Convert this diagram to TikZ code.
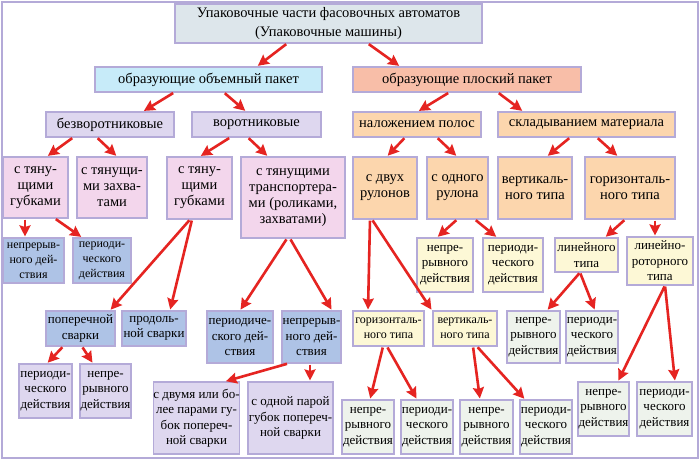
\documentclass[tikz,border=0pt]{standalone}
\usepackage{fontspec}
\setmainfont{Liberation Serif}
\usetikzlibrary{arrows.meta}
\definecolor{bord}{HTML}{B4AAD8}
\definecolor{arrred}{HTML}{E52421}
\definecolor{ctop}{HTML}{DDE6EB}
\definecolor{ccyan}{HTML}{C7EBF9}
\definecolor{csalmon}{HTML}{F8BEA8}
\definecolor{clav}{HTML}{DED7EF}
\definecolor{cpink}{HTML}{F3D6EC}
\definecolor{cpeach}{HTML}{FCD6AD}
\definecolor{cblue}{HTML}{AEC3E6}
\definecolor{cyel}{HTML}{FDF8D6}
\definecolor{cgreen}{HTML}{EEF3EC}
\tikzset{
  box/.style={draw=bord, line width=1.1pt, inner sep=0pt, align=center,
    font=\fontsize{14.5}{16}\selectfont},
  topbox/.style={box, font=\fontsize{14.5}{19}\selectfont},
  sbox/.style={box, font=\fontsize{13}{15.5}\selectfont},
  nbox/.style={box, font=\fontsize{12}{15}\selectfont},
  arr/.style={draw=arrred, line width=2.6pt,
    -{Stealth[length=11pt,width=11pt,inset=1.5pt]}, shorten >=1pt, shorten <=1pt},
}
\newcommand\bx[7]{\node[#6, minimum width=#4pt-#2pt, minimum height=#5pt-#3pt]
  (#1) at ({(#2+#4)/2},{(#3+#5)/2}) {#7};}
\newcommand\ar[4]{\draw[arr] (#1.south -| #2,0) -- (#3.north -| #4,0);}
\begin{document}
\begin{tikzpicture}[x=1pt,y=-1pt]
\useasboundingbox (0,0) rectangle (700,460);
\draw[draw=bord, line width=2pt, fill=white] (2,2) rectangle (698,458);
% row 1-2
\bx{top}{175}{4}{482}{43}{topbox,fill=ctop}{Упаковочные части фасовочных автоматов\\(Упаковочные машины)}
\bx{obj}{95}{67}{322}{92}{box,fill=ccyan}{образующие объемный пакет}
\bx{plo}{353}{67}{581}{92}{box,fill=csalmon}{образующие плоский пакет}
\bx{bez}{46}{112}{174}{137}{box,fill=clav}{безворотниковые}
\bx{vor}{192}{112}{321}{137}{box,fill=clav}{воротниковые}
\bx{nal}{353}{112}{481}{137}{box,fill=cpeach}{наложением полос}
\bx{skl}{498}{112}{675}{137}{box,fill=cpeach}{складыванием материала}
% row 3
\bx{ga}{3}{157}{68}{218}{box,fill=cpink}{с тяну-\\щими\\губками}
\bx{zah}{77}{157}{147}{218}{box,fill=cpink}{с тянущи-\\ми захва-\\тами}
\bx{gb}{167}{157}{232}{219}{box,fill=cpink}{с тяну-\\щими\\губками}
\bx{tr}{241}{157}{345}{238}{box,fill=cpink}{с тянущими\\транспортера-\\ми (роликами,\\захватами)}
\bx{dvr}{353}{157}{417}{219}{box,fill=cpeach}{с двух\\рулонов}
\bx{odr}{427}{157}{488}{219}{box,fill=cpeach}{с одного\\рулона}
\bx{vert}{498}{157}{572}{219}{box,fill=cpeach}{вертикаль-\\ного типа}
\bx{hor}{585}{157}{675}{219}{box,fill=cpeach}{горизонталь-\\ного типа}
% row 4
\bx{na}{3}{238}{64}{283}{nbox,fill=cblue}{непрерыв-\\ного дей-\\ствия}
\bx{pa}{73}{238}{131}{283}{nbox,fill=cblue}{периоди-\\ческого\\действия}
\bx{nb}{417}{238}{473}{292}{sbox,fill=cyel}{непре-\\рывного\\действия}
\bx{pb}{483}{238}{543}{292}{sbox,fill=cyel}{периоди-\\ческого\\действия}
\bx{lin}{555}{238}{618}{272}{sbox,fill=cyel}{линейного\\типа}
\bx{linr}{627}{237}{693}{285}{sbox,fill=cyel}{линейно-\\роторного\\типа}
% row 5
\bx{pop}{46}{311}{115}{346}{sbox,fill=cblue}{поперечной\\сварки}
\bx{prod}{122}{311}{186}{346}{sbox,fill=cblue}{продоль-\\ной сварки}
\bx{pc}{207}{311}{273}{363}{sbox,fill=cblue}{периодиче-\\ского дей-\\ствия}
\bx{nc}{282}{311}{341}{363}{sbox,fill=cblue}{непрерыв-\\ного дей-\\ствия}
\bx{hort}{353}{311}{424}{346}{nbox,fill=cyel}{горизонталь-\\ного типа}
\bx{vrt}{433}{311}{497}{346}{nbox,fill=cyel}{вертикаль-\\ного типа}
\bx{nd}{507}{311}{560}{363}{sbox,fill=cgreen}{непре-\\рывного\\действия}
\bx{pd}{566}{311}{618}{363}{sbox,fill=cgreen}{периоди-\\ческого\\действия}
% row 6
\bx{pe}{19}{364}{72}{418}{sbox,fill=clav}{периоди-\\ческого\\действия}
\bx{ne}{80}{364}{131}{418}{sbox,fill=clav}{непре-\\рывного\\действия}
\bx{dv}{154}{382}{239}{454}{sbox,fill=clav}{с двумя или бо-\\лее парами гу-\\бок попереч-\\ной сварки}
\bx{od}{248}{382}{333}{454}{sbox,fill=clav}{с одной парой\\губок попереч-\\ной сварки}
\bx{nf}{342}{400}{394}{454}{sbox,fill=cgreen}{непре-\\рывного\\действия}
\bx{pf}{401}{400}{453}{454}{sbox,fill=cgreen}{периоди-\\ческого\\действия}
\bx{ng}{460}{400}{513}{454}{sbox,fill=cgreen}{непре-\\рывного\\действия}
\bx{pg}{520}{400}{572}{454}{sbox,fill=cgreen}{периоди-\\ческого\\действия}
\bx{nh}{578}{382}{629}{436}{sbox,fill=cgreen}{непре-\\рывного\\действия}
\bx{ph}{637}{382}{692}{436}{sbox,fill=cgreen}{периоди-\\ческого\\действия}
% arrows
\ar{top}{287}{obj}{257}
\ar{top}{368}{plo}{400}
\ar{obj}{174}{bez}{143}
\ar{obj}{224}{vor}{246}
\ar{plo}{449}{nal}{418}
\ar{plo}{498}{skl}{523}
\ar{bez}{73}{ga}{47}
\ar{bez}{97}{zah}{117}
\ar{vor}{230}{gb}{200}
\ar{vor}{248}{tr}{268}
\ar{nal}{405}{dvr}{387}
\ar{nal}{437}{odr}{457}
\ar{skl}{570}{vert}{547}
\ar{skl}{597}{hor}{618}
\ar{ga}{25}{na}{25}
\ar{ga}{55}{pa}{82}
\ar{gb}{190}{pop}{110}
\ar{gb}{192}{prod}{170}
\ar{tr}{287}{pc}{240}
\ar{tr}{290}{nc}{332}
\ar{dvr}{370}{hort}{368}
\ar{dvr}{372}{vrt}{432}
\ar{odr}{457}{nb}{437}
\ar{odr}{475}{pb}{497}
\ar{hor}{625}{lin}{605}
\ar{hor}{655}{linr}{655}
\ar{lin}{580}{nd}{547}
\ar{lin}{580}{pd}{595}
\ar{linr}{665}{nh}{618}
\ar{linr}{665}{ph}{675}
\ar{pop}{63}{pe}{47}
\ar{pop}{82}{ne}{93}
\ar{nc}{288}{dv}{225}
\ar{nc}{310}{od}{310}
\ar{hort}{383}{nf}{370}
\ar{hort}{387}{pf}{417}
\ar{vrt}{473}{ng}{480}
\ar{vrt}{477}{pg}{525}
\end{tikzpicture}
\end{document}
